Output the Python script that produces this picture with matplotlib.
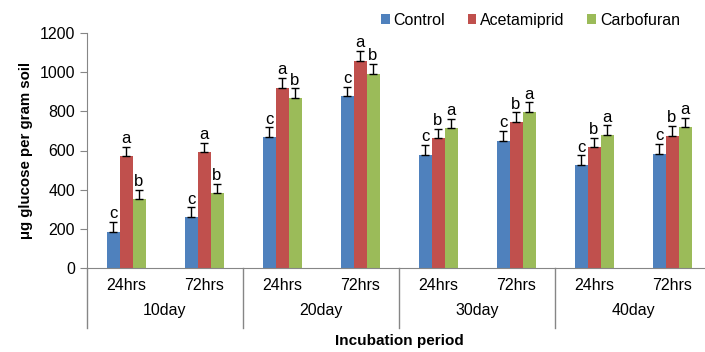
import numpy as np
import matplotlib
matplotlib.use('Agg')
import matplotlib.pyplot as plt
import matplotlib.transforms as mtransforms

plt.rcParams['font.family'] = ['Liberation Sans', 'DejaVu Sans']

hours = ['24hrs', '72hrs', '24hrs', '72hrs', '24hrs', '72hrs', '24hrs', '72hrs']
days = ['10day', '20day', '30day', '40day']
series = ['Control', 'Acetamiprid', 'Carbofuran']
control = [184, 259, 668, 876, 577, 650, 525, 583]
acetamiprid = [570, 590, 920, 1058, 662, 745, 616, 675]
carbofuran = [350, 383, 869, 993, 713, 798, 680, 719]
err_control = [50, 50, 50, 50, 50, 50, 50, 50]
err_acet = [50, 50, 50, 50, 50, 50, 50, 50]
err_carbo = [50, 48, 48, 48, 48, 48, 48, 48]
letters_control = ['c', 'c', 'c', 'c', 'c', 'c', 'c', 'c']
letters_acet = ['a', 'a', 'a', 'a', 'b', 'b', 'b', 'b']
letters_carbo = ['b', 'b', 'b', 'b', 'a', 'a', 'a', 'a']
colors = ['#4F81BD', '#C0504D', '#9BBB59']

fig = plt.figure(figsize=(7.05, 3.52), dpi=100)
ax = fig.add_axes([87 / 705, 84 / 352, 624 / 705, 235 / 352])

x = np.arange(len(hours))
w = 1 / 6
vals = [control, acetamiprid, carbofuran]
errs = [err_control, err_acet, err_carbo]
lets = [letters_control, letters_acet, letters_carbo]
for i in range(3):
    pos = x + (i - 1) * w
    ax.bar(pos, vals[i], w, color=colors[i], label=series[i], zorder=2)
    ax.errorbar(pos, vals[i], yerr=[np.zeros(len(x)), errs[i]], fmt='none',
                ecolor='black', elinewidth=1, capsize=3, capthick=1, zorder=3)
    for p, v, e, l in zip(pos, vals[i], errs[i], lets[i]):
        ax.text(p, v + e + 4, l, ha='center', va='bottom', fontsize=12)

ax.set_xlim(-0.5, len(hours) - 0.5)
ax.set_ylim(0, 1200)
ax.set_yticks(range(0, 1201, 200))
ax.tick_params(axis='y', labelsize=11.5, color='#868686', length=5, direction='out')
ax.set_xticks(x)
ax.set_xticklabels(hours, fontsize=11.5)
ax.tick_params(axis='x', length=0, pad=7)
for s in ['top', 'right']:
    ax.spines[s].set_visible(False)
for s in ['left', 'bottom']:
    ax.spines[s].set_color('#868686')

# group labels and separators
trans = mtransforms.blended_transform_factory(ax.transData, ax.transAxes)
for k, d in enumerate(days):
    ax.text(2 * k + 0.5, -0.18, d, transform=trans, ha='center', va='center', fontsize=11.5)
for k in range(len(days) + 1):
    ax.plot([2 * k - 0.5, 2 * k - 0.5], [0, -0.255], transform=trans, color='#868686',
            lw=1, clip_on=False)

ax.set_xlabel('Incubation period', fontsize=11, fontweight='bold', labelpad=30)
ax.set_ylabel('\u03bcg glucose per gram soil', fontsize=10.8, fontweight='bold', labelpad=5)

fig.legend(loc='upper right', bbox_to_anchor=(0.985, 1.005), ncol=3, frameon=False,
           fontsize=11.5, handlelength=0.55, handleheight=0.55, handletextpad=0.25,
           columnspacing=1.4)

fig.savefig('out.png', dpi=100)
